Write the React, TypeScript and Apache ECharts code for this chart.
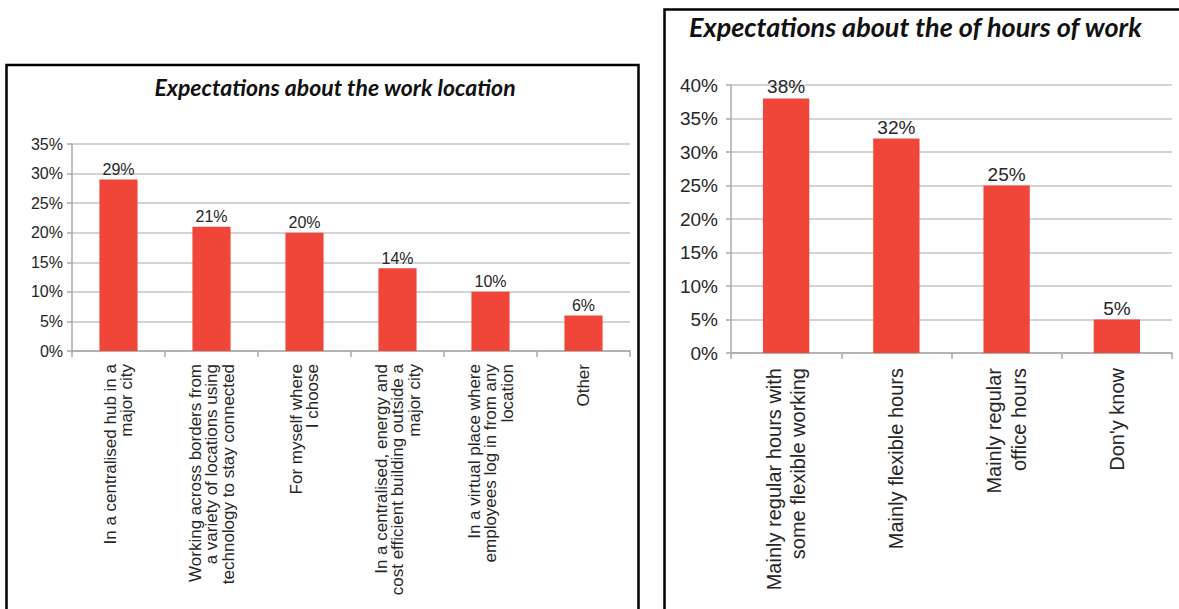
import React, { useEffect, useRef } from "react";
import * as echarts from "echarts";

// Survey results: where people expect to work, and what hours they expect to keep
const locationCategories = [
  "In a centralised hub in a\nmajor city",
  "Working across borders from\na variety of locations using\ntechnology to stay connected",
  "For myself where\nI choose",
  "In a centralised, energy and\ncost efficient building outside a\nmajor city",
  "In a virtual place where\nemployees log in from any\nlocation",
  "Other",
];
const locationValues = [29, 21, 20, 14, 10, 6];

const hoursCategories = [
  "Mainly regular hours with\nsome flexible working",
  "Mainly flexible hours",
  "Mainly regular\noffice hours",
  "Don'y know",
];
const hoursValues = [38, 32, 25, 5];

const locationTitle = "Expectations about the work location";
const hoursTitle = "Expectations about the of hours of work";

const SANS = "'Liberation Sans', Arial, Helvetica, sans-serif";
const TITLE_FONT = "Lato, 'Open Sans', sans-serif";
const BAR_RED = "#F0463A";
const GRID_GREY = "#c4c4c4";
const AXIS_GREY = "#a8a8a8";
const TEXT = "#262626";

export default function App() {
  const ref = useRef<HTMLDivElement>(null);

  useEffect(() => {
    if (!ref.current) return;
    const chart = echarts.init(ref.current, undefined, { renderer: "svg" });

    const valueAxis = (gridIndex: number, max: number, fontSize: number, margin: number) => ({
      type: "value" as const,
      gridIndex,
      min: 0,
      max,
      interval: 5,
      axisLine: { show: true, lineStyle: { color: AXIS_GREY, width: 1.5 } },
      axisTick: { show: true, length: 5, lineStyle: { color: AXIS_GREY, width: 1.5 } },
      axisLabel: {
        formatter: "{value}%",
        fontFamily: SANS,
        fontSize,
        color: TEXT,
        margin,
      },
      splitLine: { show: true, lineStyle: { color: GRID_GREY, width: 1.5 } },
    });

    const categoryAxis = (
      gridIndex: number,
      data: string[],
      fontSize: number,
      lineHeight: number,
      margin: number
    ) => ({
      type: "category" as const,
      gridIndex,
      data,
      axisLine: { show: true, lineStyle: { color: AXIS_GREY, width: 1.5 } },
      axisTick: { show: true, length: 6, lineStyle: { color: AXIS_GREY, width: 1.5 } },
      axisLabel: {
        rotate: 90,
        interval: 0,
        fontFamily: SANS,
        fontSize,
        lineHeight,
        color: TEXT,
        margin,
      },
    });

    chart.setOption({
      animation: false,
      backgroundColor: "#ffffff",
      title: [
        {
          text: locationTitle,
          left: 330,
          top: 70,
          textAlign: "center",
          textStyle: {
            fontFamily: TITLE_FONT,
            fontStyle: "italic",
            fontWeight: "bold",
            fontSize: 23,
            color: "#111",
          },
        },
        {
          text: hoursTitle,
          left: 684,
          top: 8,
          textStyle: {
            fontFamily: TITLE_FONT,
            fontStyle: "italic",
            fontWeight: "bold",
            fontSize: 27,
            color: "#111",
          },
        },
      ],
      grid: [
        { left: 72, right: 549, top: 144, bottom: 258 },
        { left: 731, right: 7, top: 85, bottom: 256 },
      ],
      xAxis: [
        categoryAxis(0, locationCategories, 17, 16.5, 13),
        categoryAxis(1, hoursCategories, 20, 24.5, 15),
      ],
      yAxis: [valueAxis(0, 35, 16, 9), valueAxis(1, 40, 19, 13)],
      series: [
        {
          type: "bar",
          xAxisIndex: 0,
          yAxisIndex: 0,
          data: locationValues,
          barWidth: "41%",
          itemStyle: { color: BAR_RED },
          label: {
            show: true,
            position: "top",
            distance: 2,
            formatter: "{c}%",
            fontFamily: SANS,
            fontSize: 16,
            color: TEXT,
          },
        },
        {
          type: "bar",
          xAxisIndex: 1,
          yAxisIndex: 1,
          data: hoursValues,
          barWidth: "42%",
          itemStyle: { color: BAR_RED },
          label: {
            show: true,
            position: "top",
            distance: 2,
            formatter: "{c}%",
            fontFamily: SANS,
            fontSize: 19,
            color: TEXT,
          },
        },
      ],
      graphic: [
        {
          type: "rect",
          shape: { x: 6.5, y: 65, width: 632, height: 600 },
          style: { fill: "transparent", stroke: "#000", lineWidth: 2.5 },
          silent: true,
        },
        {
          type: "rect",
          shape: { x: 664.5, y: 9.5, width: 600, height: 700 },
          style: { fill: "transparent", stroke: "#000", lineWidth: 2.5 },
          silent: true,
        },
      ],
    });

    return () => chart.dispose();
  }, []);

  return (
    <div
      ref={ref}
      style={{ position: "fixed", left: 0, top: 0, width: 1179, height: 609, background: "#fff" }}
    />
  );
}
